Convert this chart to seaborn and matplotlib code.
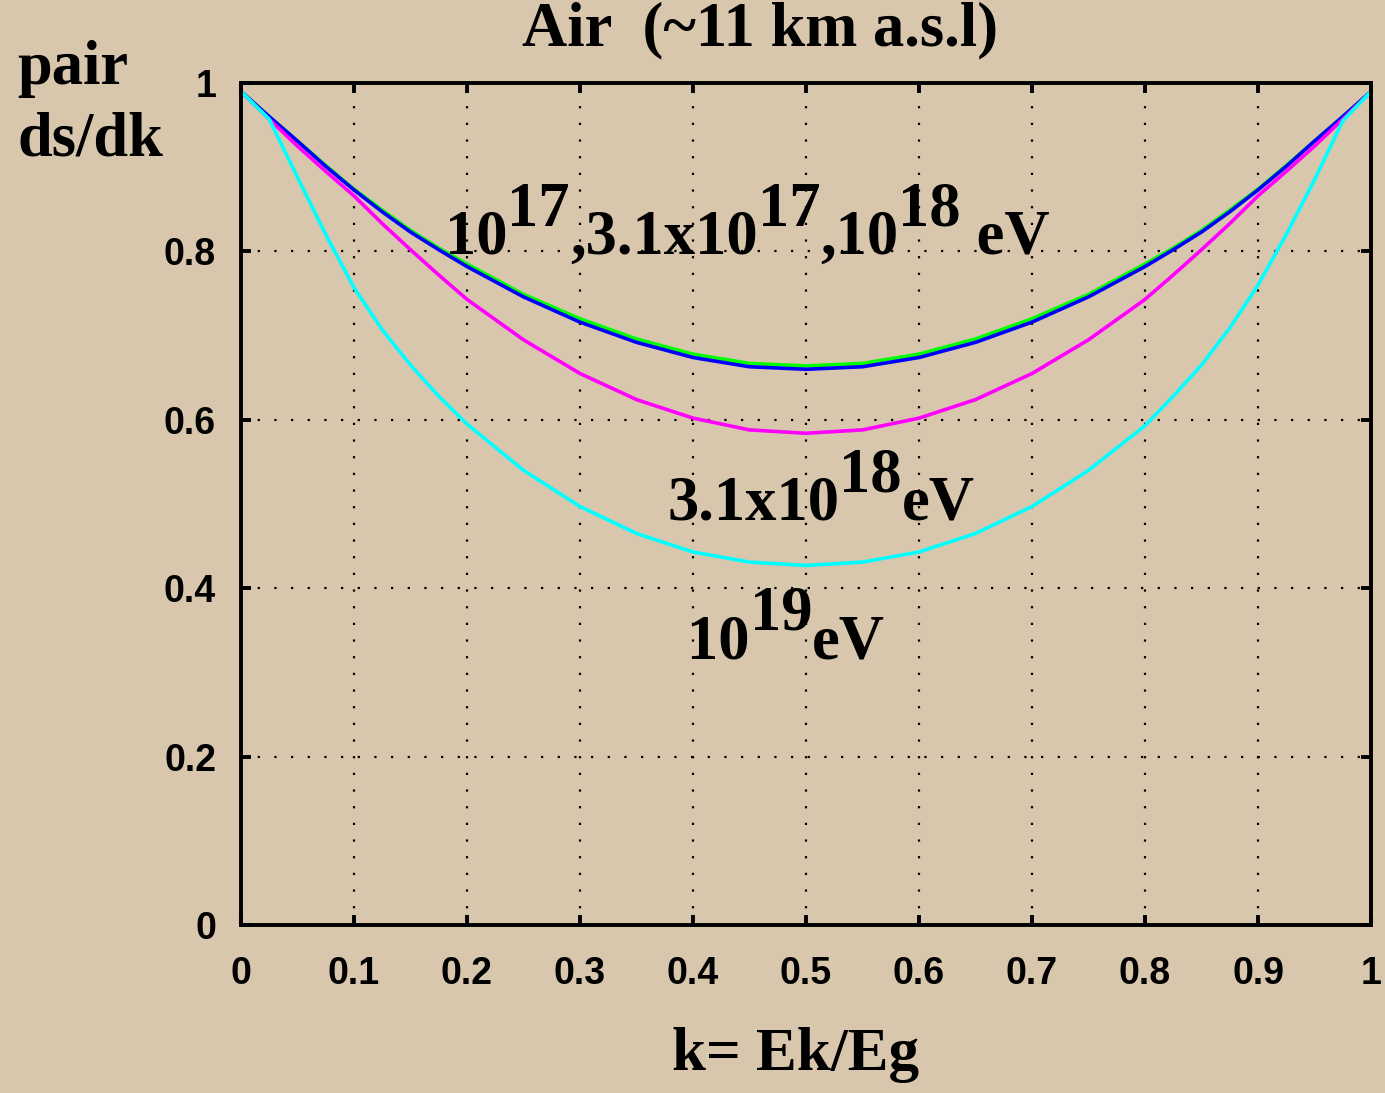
import pandas as pd
import matplotlib
matplotlib.use("Agg")
import matplotlib.pyplot as plt
import matplotlib.transforms as mtransforms
import seaborn as sns

# valores
k = [0.0, 0.025, 0.05, 0.075, 0.1, 0.125, 0.15, 0.175, 0.2, 0.25, 0.3, 0.35, 0.4, 0.45, 0.5,
     0.55, 0.6, 0.65, 0.7, 0.75, 0.8, 0.825, 0.85, 0.875, 0.9, 0.925, 0.95, 0.975, 1.0]
e17 = [0.99, 0.960, 0.931, 0.902, 0.874, 0.849, 0.825, 0.804, 0.785, 0.749, 0.720, 0.696, 0.678, 0.667, 0.664,
       0.667, 0.678, 0.696, 0.720, 0.749, 0.785, 0.804, 0.825, 0.849, 0.874, 0.902, 0.931, 0.960, 0.99]
e17b = [0.99, 0.960, 0.931, 0.901, 0.873, 0.847, 0.823, 0.802, 0.782, 0.746, 0.716, 0.692, 0.674, 0.663, 0.660,
        0.663, 0.674, 0.692, 0.716, 0.746, 0.782, 0.802, 0.823, 0.847, 0.873, 0.901, 0.931, 0.960, 0.99]
e18b = [0.99, 0.957, 0.925, 0.895, 0.866, 0.833, 0.802, 0.772, 0.743, 0.695, 0.655, 0.624, 0.602, 0.588, 0.584,
        0.588, 0.602, 0.624, 0.655, 0.695, 0.743, 0.772, 0.802, 0.833, 0.866, 0.895, 0.925, 0.957, 0.99]
e19 = [0.99, 0.957, 0.888, 0.82, 0.757, 0.707, 0.665, 0.628, 0.595, 0.540, 0.497, 0.465, 0.443, 0.431, 0.427,
       0.431, 0.443, 0.465, 0.497, 0.540, 0.593, 0.628, 0.665, 0.709, 0.760, 0.82, 0.885, 0.955, 0.99]

series = ["1e17", "3.1e17", "3.1e18", "1e19"]
colores = {"1e17": "#00ff00", "3.1e17": "#0000ff", "3.1e18": "#ff00ff", "1e19": "#00ffff"}

df = pd.concat([
    pd.DataFrame({"k": k, "v": e17, "E": "1e17"}),
    pd.DataFrame({"k": k, "v": e17b, "E": "3.1e17"}),
    pd.DataFrame({"k": k, "v": e18b, "E": "3.1e18"}),
    pd.DataFrame({"k": k, "v": e19, "E": "1e19"}),
])

fondo = "#d8c7ad"
fig = plt.figure(figsize=(13.85, 10.93), dpi=100, facecolor=fondo)
ax = fig.add_axes([241 / 1385, 1 - 925 / 1093, 1130 / 1385, 842 / 1093])
ax.set_facecolor("none")

for s in series:
    sns.lineplot(data=df[df["E"] == s], x="k", y="v", color=colores[s], linewidth=2.6,
                 sort=False, ax=ax, legend=False)

ax.set_xlim(0, 1)
ax.set_ylim(0, 1)
ax.set_xticks([0, 0.1, 0.2, 0.3, 0.4, 0.5, 0.6, 0.7, 0.8, 0.9, 1])
ax.set_xticklabels(["0", "0.1", "0.2", "0.3", "0.4", "0.5", "0.6", "0.7", "0.8", "0.9", "1"])
ax.set_yticks([0, 0.2, 0.4, 0.6, 0.8, 1])
ax.set_yticklabels(["0", "0.2", "0.4", "0.6", "0.8", "1"])
ax.set_xlabel("")
ax.set_ylabel("")
ax.grid(True, color="black", linestyle=(0, (1, 6.5)), linewidth=1.6)
for sp in ax.spines.values():
    sp.set_linewidth(2.8)
    sp.set_color("black")
ax.tick_params(top=True, right=True, direction="in", length=7, width=2.8)
ax.tick_params(axis="x", pad=22)
ax.tick_params(axis="y", pad=18)
for lab in ax.get_xticklabels() + ax.get_yticklabels():
    lab.set_fontfamily("Liberation Sans")
    lab.set_fontweight("bold")
    lab.set_fontsize(27)

serif = "Liberation Serif"
fig.text(760 / 1385, 1 - 45 / 1093, "Air  (~11 km a.s.l)", ha="center", va="baseline",
         fontsize=45, fontweight="bold", family=serif)
fig.text(796 / 1385, 1 - 1070 / 1093, "k= Ek/Eg", ha="center", va="baseline",
         fontsize=44, fontweight="bold", family=serif)
fig.text(17 / 1385, 1 - 84 / 1093, "pair", ha="left", va="baseline",
         fontsize=45, fontweight="bold", family=serif)
fig.text(17 / 1385, 1 - 156 / 1093, "ds/dk", ha="left", va="baseline",
         fontsize=45, fontweight="bold", family=serif)


def texto_exp(ax, x, y, piezas):
    renderer = fig.canvas.get_renderer()
    dx = 0.0
    for s, sube in piezas:
        tr = mtransforms.offset_copy(ax.transData, fig=fig, x=dx, y=sube, units="dots")
        t = ax.text(x, y, s, transform=tr, fontsize=45, fontweight="bold", family=serif,
                    ha="left", va="baseline")
        dx += t.get_window_extent(renderer).width


texto_exp(ax, 0.1805, 0.797, [("10", 0), ("17", 28), (",3.1x10", 0), ("17", 28),
                               (",10", 0), ("18", 28), (" eV", 0)])
texto_exp(ax, 0.377, 0.4816, [("3.1x10", 0), ("18", 28), ("eV", 0)])
texto_exp(ax, 0.3947, 0.316, [("10", 0), ("19", 29), ("eV", 0)])

plt.savefig("out.png", dpi=100, facecolor=fondo)
plt.close()
